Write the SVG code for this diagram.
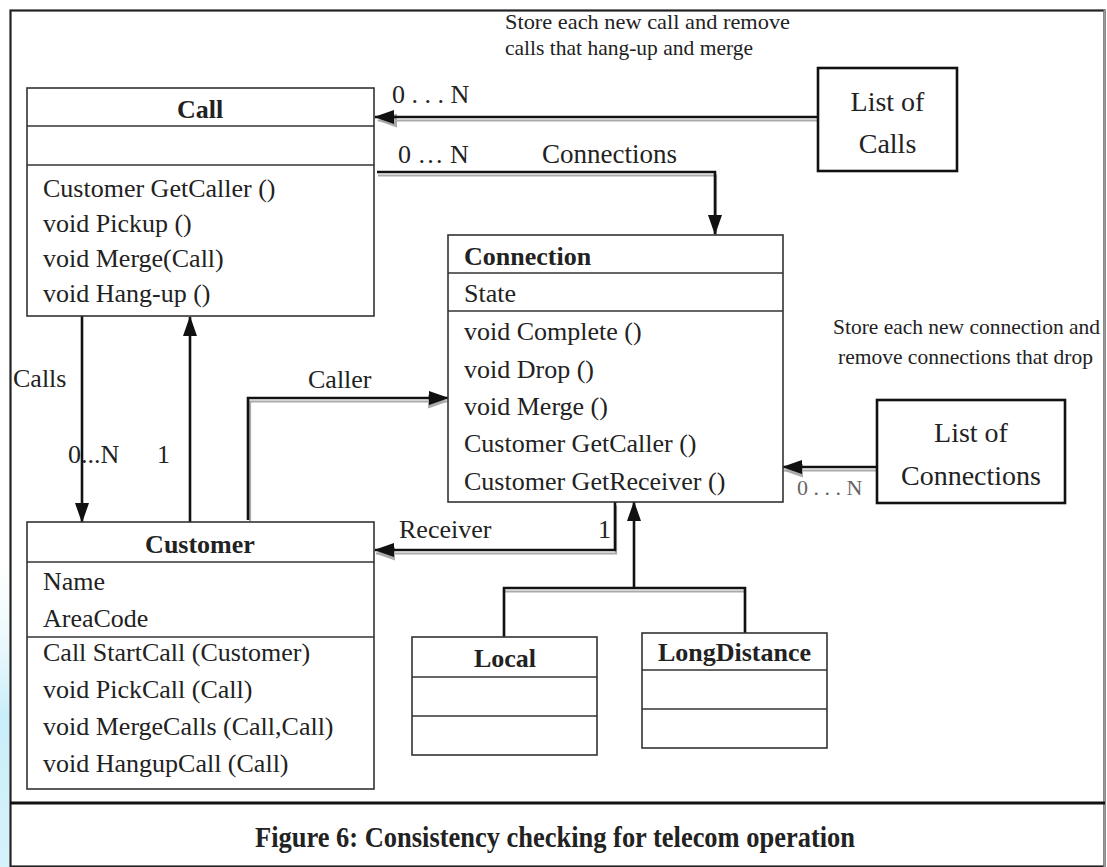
<svg xmlns="http://www.w3.org/2000/svg" width="1107" height="867" viewBox="0 0 1107 867">
<style>
text{font-family:"Liberation Serif","Times New Roman",serif;fill:#222}
.t{font-size:26px}
.b{font-size:26px;font-weight:bold}
.s{font-size:21px}
.box{fill:#fff;stroke:#333;stroke-width:1.6}
.lst{fill:#fff;stroke:#111;stroke-width:2.6}
.ln{stroke:#333;stroke-width:1.6}
.c{fill:none;stroke:#111;stroke-width:2.6}
.sh{fill:none;stroke:#aaa;stroke-width:2.2}
</style>
<defs>
<linearGradient id="blu" x1="0" y1="0" x2="0" y2="1">
<stop offset="0" stop-color="#e8f8fd" stop-opacity="0"/>
<stop offset="0.5" stop-color="#c9eefa"/>
<stop offset="1" stop-color="#d6f2fb"/>
</linearGradient>
<marker id="ah" markerUnits="userSpaceOnUse" markerWidth="20" markerHeight="14" refX="19" refY="7" orient="auto">
<path d="M0,0 L20,7 L0,14 z" fill="#111"/>
</marker>
<marker id="ahs" markerUnits="userSpaceOnUse" markerWidth="20" markerHeight="14" refX="19" refY="7" orient="auto">
<path d="M0,0 L20,7 L0,14 z" fill="#aaa"/>
</marker>
</defs>
<rect x="0" y="0" width="1107" height="867" fill="#fff"/>
<rect x="0" y="560" width="9" height="307" fill="url(#blu)"/>
<g id="frame">
<rect x="10.5" y="10.5" width="1094" height="856" fill="none" stroke="#222" stroke-width="2.2"/>
<line x1="1104.5" y1="10" x2="1104.5" y2="867" stroke="#999" stroke-width="2"/>
<line x1="10" y1="803" x2="1105" y2="803" stroke="#111" stroke-width="3.2"/>
<text class="b" x="555" y="847" text-anchor="middle" style="font-size:29px" textLength="600" lengthAdjust="spacingAndGlyphs">Figure 6: Consistency checking for telecom operation</text>
</g>
<g id="connectors">
<g transform="translate(0,3.5)">
<path class="sh" d="M818,117 H378" marker-end="url(#ahs)"/>
<path class="sh" d="M378,172 H716 V233"/>
<path class="sh" d="M250,518 V398 H447" marker-end="url(#ahs)"/>
<path class="sh" d="M877,467 H784" marker-end="url(#ahs)"/>
<path class="sh" d="M616,502 V550 H376" marker-end="url(#ahs)"/>
<path class="sh" d="M504,637 V588 H745 V633"/>
</g>
<path class="c" d="M818,117 H375" marker-end="url(#ah)"/>
<path class="c" d="M377,172 H715 V234" marker-end="url(#ah)"/>
<path class="c" d="M82,316 V522" marker-end="url(#ah)"/>
<path class="c" d="M190,522 V317" marker-end="url(#ah)"/>
<path class="c" d="M248,520 V398 H448" marker-end="url(#ah)"/>
<path class="c" d="M877,467 H783" marker-end="url(#ah)"/>
<path class="c" d="M615,502 V550 H375" marker-end="url(#ah)"/>
<path class="c" d="M504,637 V588 H745 V633"/>
<path class="c" d="M634,588 V502" marker-end="url(#ah)"/>
<text class="s" x="505" y="29" textLength="285" lengthAdjust="spacingAndGlyphs">Store each new call and remove</text>
<text class="s" x="505" y="55" textLength="248" lengthAdjust="spacingAndGlyphs">calls that hang-up and merge</text>
<text class="t" x="392" y="103">0 . . . N</text>
<text class="t" x="398" y="163">0 … N</text>
<text class="t" x="542" y="163" style="font-size:27px">Connections</text>
<text class="t" x="13" y="387">Calls</text>
<text class="t" x="68" y="463">0...N</text>
<text class="t" x="157" y="463">1</text>
<text class="t" x="308" y="388">Caller</text>
<text class="t" x="399" y="538">Receiver</text>
<text class="t" x="598" y="538">1</text>
<text class="s" x="833" y="334" textLength="267" lengthAdjust="spacingAndGlyphs">Store each new connection and</text>
<text class="s" x="838" y="364" textLength="255" lengthAdjust="spacingAndGlyphs">remove connections that drop</text>
<text class="s" x="797" y="495" style="font-size:22px;fill:#666">0 . . . N</text>
</g>
<g id="call">
<rect class="box" x="27" y="88" width="347" height="228"/>
<line class="ln" x1="27" y1="126" x2="374" y2="126"/>
<line class="ln" x1="27" y1="165" x2="374" y2="165"/>
<text class="b" x="200" y="118" text-anchor="middle">Call</text>
<text class="t" x="43" y="197">Customer GetCaller ()</text>
<text class="t" x="43" y="232">void Pickup ()</text>
<text class="t" x="43" y="267">void Merge(Call)</text>
<text class="t" x="43" y="302">void Hang-up ()</text>
</g>
<g id="list-of-calls">
<rect class="lst" x="818" y="68" width="139" height="103"/>
<text class="t" x="887.5" y="111" text-anchor="middle" style="font-size:28px">List of</text>
<text class="t" x="887.5" y="153" text-anchor="middle" style="font-size:28px">Calls</text>
</g>
<g id="connection">
<rect class="box" x="448" y="235" width="335" height="267"/>
<line class="ln" x1="448" y1="273" x2="783" y2="273"/>
<line class="ln" x1="448" y1="311" x2="783" y2="311"/>
<text class="b" x="464" y="265">Connection</text>
<text class="t" x="464" y="302">State</text>
<text class="t" x="464" y="340">void Complete ()</text>
<text class="t" x="464" y="378">void Drop ()</text>
<text class="t" x="464" y="415">void Merge ()</text>
<text class="t" x="464" y="452">Customer GetCaller ()</text>
<text class="t" x="464" y="490">Customer GetReceiver ()</text>
</g>
<g id="list-of-connections">
<rect class="lst" x="877" y="400" width="188" height="103"/>
<text class="t" x="971" y="442" text-anchor="middle" style="font-size:28px">List of</text>
<text class="t" x="971" y="485" text-anchor="middle" style="font-size:28px">Connections</text>
</g>
<g id="customer">
<rect class="box" x="27" y="522" width="347" height="267"/>
<line class="ln" x1="27" y1="562" x2="374" y2="562"/>
<line class="ln" x1="27" y1="637" x2="374" y2="637"/>
<text class="b" x="200" y="553" text-anchor="middle">Customer</text>
<text class="t" x="43" y="590">Name</text>
<text class="t" x="43" y="627">AreaCode</text>
<text class="t" x="43" y="661">Call StartCall (Customer)</text>
<text class="t" x="43" y="698">void PickCall (Call)</text>
<text class="t" x="43" y="735">void MergeCalls (Call,Call)</text>
<text class="t" x="43" y="772">void HangupCall (Call)</text>
</g>
<g id="local">
<rect class="box" x="412" y="637" width="185" height="118"/>
<line class="ln" x1="412" y1="677" x2="597" y2="677"/>
<line class="ln" x1="412" y1="716" x2="597" y2="716"/>
<text class="b" x="505" y="667" text-anchor="middle">Local</text>
</g>
<g id="longdistance">
<rect class="box" x="642" y="633" width="185" height="115"/>
<line class="ln" x1="642" y1="670" x2="827" y2="670"/>
<line class="ln" x1="642" y1="709" x2="827" y2="709"/>
<text class="b" x="734.5" y="661" text-anchor="middle">LongDistance</text>
</g>
</svg>
